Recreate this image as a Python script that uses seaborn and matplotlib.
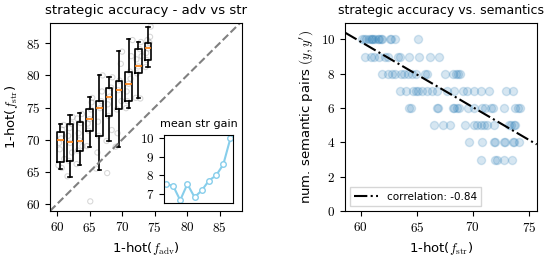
import numpy as np
import pandas as pd
import seaborn as sns
import matplotlib
matplotlib.use('Agg')
import matplotlib.pyplot as plt
from matplotlib.ticker import FuncFormatter

# box summary per adv-accuracy bin (left panel)
box_pos = [60.5, 62.0, 63.5, 65.0, 66.5, 68.0, 69.5, 71.0, 72.5, 74.0]
box_whislo = [65.4, 64.2, 66.1, 68.9, 65.3, 69.8, 68.9, 74.9, 76.5, 81.3]
box_q1 = [66.6, 66.7, 68.2, 71.4, 70.6, 73.7, 74.7, 76.0, 80.3, 82.4]
box_med = [69.9, 69.7, 69.8, 73.2, 74.9, 76.7, 77.7, 78.7, 81.4, 84.2]
box_q3 = [71.2, 72.5, 72.7, 74.7, 76.0, 78.1, 79.2, 80.6, 84.1, 85.1]
box_whishi = [72.4, 73.8, 74.2, 76.7, 80.1, 79.8, 83.8, 85.6, 85.2, 87.6]

# raw runs behind the boxes
adv_acc = [60.2, 60.4, 60.6, 60.8, 61.0, 60.3, 61.1, 60.7,
           61.6, 61.8, 62.0, 62.2, 62.4, 61.7, 62.3, 61.9,
           63.0, 63.2, 63.4, 63.6, 63.8, 63.3, 63.9, 63.1,
           64.6, 64.8, 65.0, 65.2, 65.4, 64.7, 65.1, 65.3,
           66.0, 66.2, 66.4, 66.6, 66.8, 67.0, 66.3, 66.9,
           67.6, 67.7, 67.9, 68.1, 68.3, 68.5, 67.8, 68.4,
           69.0, 69.2, 69.4, 69.6, 69.8, 70.0, 69.3, 69.9,
           70.6, 70.8, 71.0, 71.2, 71.4, 71.6, 70.7, 71.3,
           72.1, 72.3, 72.5, 72.7, 72.9, 72.2, 72.8, 73.0,
           73.6, 73.8, 74.0, 74.2, 74.4, 73.7, 74.3, 73.9]
str_acc = [66.0, 68.5, 70.2, 71.5, 72.3, 69.5, 67.0, 65.6,
           64.3, 66.7, 69.5, 72.5, 73.5, 70.6, 68.0, 71.8,
           66.2, 68.3, 69.9, 72.6, 74.0, 71.0, 69.0, 73.3,
           69.0, 71.4, 73.2, 74.7, 76.5, 72.5, 60.4, 75.8,
           65.5, 68.0, 70.6, 74.9, 76.0, 80.0, 72.8, 77.5,
           69.8, 64.8, 73.7, 76.7, 78.1, 79.7, 75.5, 71.5,
           68.9, 74.7, 77.7, 79.2, 81.8, 83.7, 71.0, 76.0,
           74.9, 76.0, 78.7, 80.6, 83.0, 85.5, 77.5, 79.5,
           76.5, 80.3, 81.4, 84.1, 85.2, 82.5, 76.4, 83.0,
           81.3, 82.4, 84.2, 85.1, 87.6, 83.5, 86.0, 85.5]

# inset: mean strategic gain per bin
gain_bin = [1, 2, 3, 4, 5, 6, 7, 8, 9, 10]
gain_y = [7.52, 7.46, 6.68, 7.54, 6.84, 7.2, 7.73, 8.0, 8.59, 10.0]

# right panel: str accuracy vs number of semantic pairs
sem_pairs = ([10] * 16 + [9] * 12 + [8] * 16 + [7] * 18 + [6] * 18
             + [5] * 14 + [4] * 9 + [3] * 5)
sem_str = [60.1, 60.3, 60.5, 60.7, 60.9, 61.0, 61.1, 61.3, 61.5, 61.6, 61.8, 61.9, 62.6, 62.7, 63.1, 65.1,
           60.4, 60.9, 61.2, 61.6, 62.2, 62.4, 63.3, 63.5, 64.3, 65.2, 66.2, 67.0,
           61.9, 62.4, 62.8, 63.1, 63.6, 63.9, 64.2, 64.6, 64.9, 65.7, 65.9, 67.5, 68.2, 68.5, 68.7, 68.9,
           63.5, 64.0, 64.7, 64.9, 65.1, 65.5, 65.9, 66.4, 66.8, 67.7, 68.3, 69.1, 69.5, 70.1, 70.7, 71.4, 73.0, 73.6,
           64.3, 64.5, 66.8, 66.9, 68.2, 68.3, 68.6, 68.8, 69.6, 70.1, 70.8, 71.1, 71.6, 71.8, 72.8, 73.8, 74.0, 74.2,
           66.5, 67.3, 68.0, 69.3, 70.1, 70.4, 70.7, 71.0, 71.3, 71.9, 73.2, 73.4, 73.7, 73.8,
           69.7, 70.8, 71.9, 72.0, 72.8, 72.9, 73.6, 73.7, 74.1,
           70.7, 72.0, 72.2, 72.8, 73.5]
fit_slope = -0.381
fit_intercept = 32.72
corr = -0.84

plt.rcParams['mathtext.fontset'] = 'cm'
plt.rcParams['font.family'] = ['DejaVu Sans']
plt.rcParams['font.size'] = 9.5

math_fmt = FuncFormatter(lambda v, p: f'${v:g}$')

fig = plt.figure(figsize=(5.48, 2.56), dpi=100)
ax1 = fig.add_axes([0.0912, 0.1758, 0.3498, 0.7355])
ax2 = fig.add_axes([0.6296, 0.1758, 0.3498, 0.7355])
axin = fig.add_axes([0.2993, 0.207, 0.1259, 0.2656])

# left: scatter + boxes + diagonal
sns.scatterplot(x=adv_acc, y=str_acc, ax=ax1, s=14, facecolor='none',
                edgecolor='gray', alpha=0.3, linewidth=0.8, zorder=1)
stats = [dict(med=m, q1=a, q3=b, whislo=lo, whishi=hi, fliers=[])
         for m, a, b, lo, hi in zip(box_med, box_q1, box_q3, box_whislo, box_whishi)]
ax1.bxp(stats, positions=box_pos, widths=1.0, manage_ticks=False,
        boxprops=dict(color='black', linewidth=1.2),
        whiskerprops=dict(color='black', linewidth=1.2),
        capprops=dict(color='black', linewidth=1.2),
        medianprops=dict(color='tab:orange', linewidth=1.2))
ax1.axline((60, 60), slope=1, color='gray', linestyle='--', linewidth=1.5)
ax1.set_xlim(58.9, 88.4)
ax1.set_ylim(58.9, 88.2)
ax1.set_xticks([60, 65, 70, 75, 80, 85])
ax1.set_yticks([60, 65, 70, 75, 80, 85])
ax1.xaxis.set_major_formatter(math_fmt)
ax1.yaxis.set_major_formatter(math_fmt)
ax1.set_title('strategic accuracy - adv vs str', fontsize=9.5)
ax1.set_xlabel(r'1-hot($f_{\rm adv}$)')
ax1.set_ylabel(r'1-hot($f_{\rm str}$)')

# inset
sns.lineplot(x=gain_bin, y=gain_y, ax=axin, color='skyblue', marker='o',
             markersize=4, markerfacecolor='white', markeredgecolor='skyblue',
             markeredgewidth=1.0, linewidth=1.5)
axin.set_xlim(0.75, 10.35)
axin.set_ylim(6.53, 10.16)
axin.set_xticks([])
axin.set_yticks([7, 8, 9, 10])
axin.yaxis.set_major_formatter(math_fmt)
axin.set_title('mean str gain', fontsize=8)

# right: semantics scatter + fit
sns.scatterplot(x=sem_str, y=sem_pairs, ax=ax2, s=34, color='#1f77b4',
                alpha=0.18, edgecolor='#1f77b4', linewidth=1.0)
xs = np.array([58.6, 75.7])
sns.lineplot(x=xs, y=fit_intercept + fit_slope * xs, ax=ax2, color='black',
             linestyle='-.', linewidth=1.5, label=f'correlation: {corr:.2f}')
ax2.set_xlim(58.6, 75.7)
ax2.set_ylim(0, 10.97)
ax2.set_xticks([60, 65, 70, 75])
ax2.set_yticks([0, 2, 4, 6, 8, 10])
ax2.xaxis.set_major_formatter(math_fmt)
ax2.yaxis.set_major_formatter(math_fmt)
ax2.legend(loc='lower left', fontsize=7.5, handlelength=2.3, fancybox=False)
ax2.set_title('strategic accuracy vs. semantics', fontsize=9)
ax2.set_xlabel(r'1-hot($f_{\rm str}$)')
ax2.set_ylabel(r"num. semantic pairs $(y, y')$")

fig.savefig('out.png', dpi=100)
